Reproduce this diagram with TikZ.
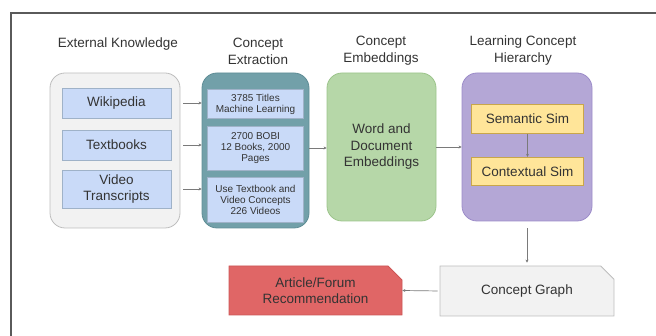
\documentclass[tikz,border=0pt]{standalone}
\usepackage{fontspec}
\setmainfont{Liberation Sans}
\usetikzlibrary{shapes.misc,arrows.meta}
\definecolor{txt}{HTML}{333333}
\definecolor{frame}{HTML}{5A5A5A}
\definecolor{ggfill}{HTML}{F2F2F2}
\definecolor{ggline}{HTML}{BDBDBD}
\definecolor{bluefill}{HTML}{C9DAF8}
\definecolor{blueline}{HTML}{9FB2C8}
\definecolor{tealfill}{HTML}{72A0A9}
\definecolor{tealline}{HTML}{5F8D96}
\definecolor{greenfill}{HTML}{B6D7A8}
\definecolor{greenline}{HTML}{9CC48B}
\definecolor{purplefill}{HTML}{B4A7D6}
\definecolor{purpleline}{HTML}{9C8CC9}
\definecolor{yellowfill}{HTML}{FFE599}
\definecolor{yellowline}{HTML}{C9A64A}
\definecolor{redfill}{HTML}{E06666}
\definecolor{redline}{HTML}{CC5555}
\definecolor{arrowc}{HTML}{7A7A7A}
\tikzset{
  base/.style={anchor=center, inner sep=0pt, text=txt, align=center},
  bigbox/.style={base, rounded corners=15pt, line width=0.8pt},
  inbox/.style={base, draw=blueline, fill=bluefill, line width=0.8pt, font=\fontsize{13.5}{16.5}\selectfont},
  smallbox/.style={base, draw=blueline, fill=bluefill, line width=0.6pt, font=\fontsize{10}{11}\selectfont},
  simbox/.style={base, draw=yellowline, fill=yellowfill, line width=0.6pt, minimum width=112pt, minimum height=28.5pt, font=\fontsize{13.5}{16.5}\selectfont},
  title/.style={base, font=\fontsize{13.5}{17}\selectfont},
  snipbox/.style={base, chamfered rectangle, chamfered rectangle corners=north east, chamfered rectangle xsep=7pt, chamfered rectangle ysep=7pt, line width=0.8pt, font=\fontsize{13.5}{16.5}\selectfont},
  conn/.style={draw=arrowc, line width=0.7pt, -{Stealth[length=3pt,width=3pt]}},
}
\begin{document}
\begin{tikzpicture}[x=1pt,y=-1pt]
\useasboundingbox (0,0) rectangle (656,336);
\draw[frame, line width=2pt] (656,13) -- (11,13) -- (11,336);

% titles
\node[title] (t1) at (118,44) {External Knowledge};
\node[title] (t2) at (258,51) {Concept\\Extraction};
\node[title] (t3) at (381,51) {Concept\\Embeddings};
\node[title] (t4) at (523,51) {Learning Concept\\Hierarchy};

% external knowledge
\node[bigbox, draw=ggline, fill=ggfill, minimum width=130pt, minimum height=155pt] (ek) at (115,150.5) {};
\node[inbox, minimum width=109pt, minimum height=30pt] (wiki) at (116.5,103) {Wikipedia};
\node[inbox, minimum width=109pt, minimum height=30pt] (tb) at (116.5,145) {Textbooks};
\node[inbox, minimum width=109pt, minimum height=38pt] (vt) at (116.5,189) {Video\\Transcripts};

% concept extraction
\node[bigbox, draw=tealline, fill=tealfill, minimum width=107pt, minimum height=155pt] (ce) at (255.5,150.5) {};
\node[smallbox, minimum width=96pt, minimum height=29pt] (c1) at (255.5,104) {3785 Titles\\Machine Learning};
\node[smallbox, minimum width=96pt, minimum height=44pt] (c2) at (255.5,148) {2700 BOBI\\12 Books, 2000\\Pages};
\node[smallbox, minimum width=96pt, minimum height=45pt] (c3) at (255.5,200) {Use Textbook and\\Video Concepts\\226 Videos};

% concept embeddings
\node[bigbox, draw=greenline, fill=greenfill, minimum width=109pt, minimum height=148pt, font=\fontsize{13.5}{16.5}\selectfont] (emb) at (381.5,147) {Word and\\Document\\Embeddings};

% hierarchy
\node[bigbox, draw=purpleline, fill=purplefill, minimum width=130pt, minimum height=148pt] (lch) at (527,147) {};
\node[simbox] (sem) at (527.5,119) {Semantic Sim};
\node[simbox] (ctx) at (527.5,171.5) {Contextual Sim};

% bottom row
\node[snipbox, draw=ggline, fill=ggfill, minimum width=174pt, minimum height=50pt] (cg) at (527,291) {Concept Graph};
\node[snipbox, draw=redline, fill=redfill, minimum width=173pt, minimum height=49pt] (rec) at (315.5,290.5) {Article/Forum\\Recommendation};

% connectors
\draw[conn, shorten <=3pt] (ek.east |- wiki) -- (ce.west |- wiki);
\draw[conn, shorten <=3pt] (ek.east |- tb) -- (ce.west |- tb);
\draw[conn, shorten <=3pt] (ek.east |- vt) -- (ce.west |- vt);
\draw[conn] (ce.east |- c2) -- (emb.west |- c2);
\draw[conn] (emb.east) -- (lch.west |- emb.east);
\draw[conn] (sem) -- (ctx);
\draw[conn, shorten <=7pt, shorten >=3pt] (lch.south) -- (cg.north -| lch.south);
\draw[conn, shorten <=2pt] (cg.west) -- (rec.east);
\end{tikzpicture}
\end{document}
